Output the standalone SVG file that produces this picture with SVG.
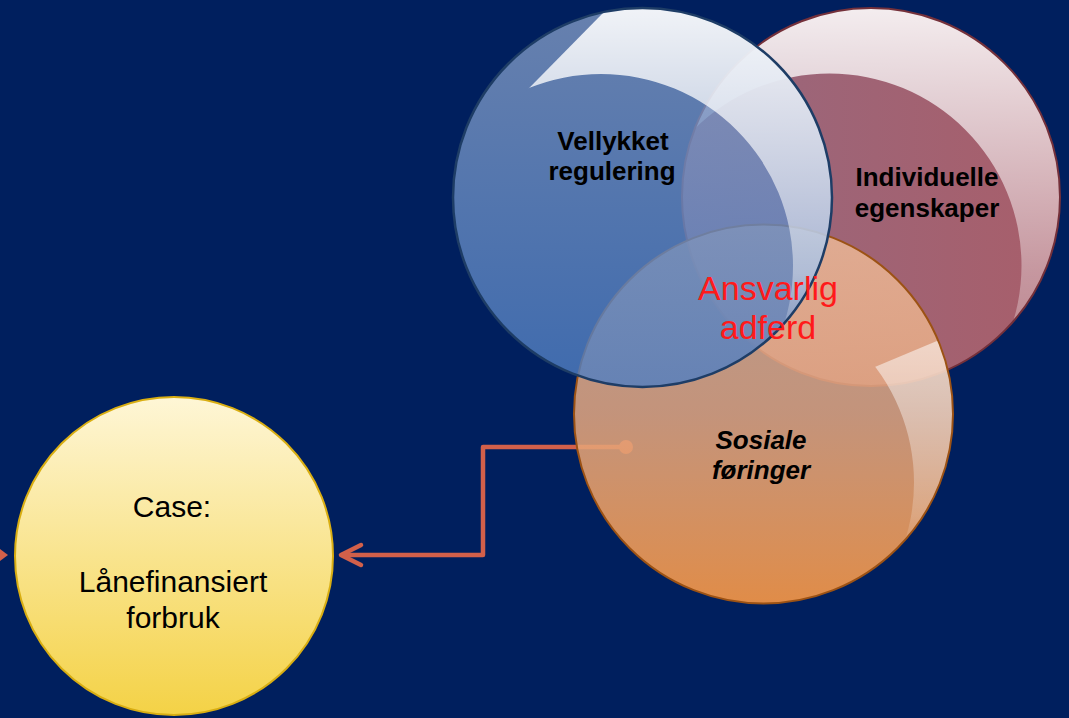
<svg xmlns="http://www.w3.org/2000/svg" width="1069" height="718" viewBox="0 0 1069 718">
<defs>
<style>
.lbl{font-family:"Liberation Sans",Arial,sans-serif;fill:#000;text-anchor:middle}
.b{font-weight:bold;font-size:26px}
.bi{font-weight:bold;font-style:italic;font-size:26px}
.red{fill:#FF1A1A;font-size:34px}
.case{font-size:30px}
.conn{fill:none;stroke:#D2604A;stroke-width:4.5;stroke-linejoin:round;stroke-linecap:round}
</style>
<linearGradient id="gBlue" gradientUnits="userSpaceOnUse" x1="0" y1="8" x2="0" y2="387">
<stop offset="0" stop-color="#8199C2"/><stop offset="1" stop-color="#4F7EC2"/>
</linearGradient>
<linearGradient id="gMaroon" gradientUnits="userSpaceOnUse" x1="690" y1="0" x2="1060" y2="0">
<stop offset="0" stop-color="#98687E"/><stop offset="1" stop-color="#A85E6A"/>
</linearGradient>
<linearGradient id="gOrange" gradientUnits="userSpaceOnUse" x1="0" y1="225" x2="0" y2="603">
<stop offset="0" stop-color="#F5C39C" stop-opacity="0.75"/><stop offset="0.5" stop-color="#E6A880" stop-opacity="0.85"/><stop offset="1" stop-color="#E08C48" stop-opacity="1"/>
</linearGradient>
<linearGradient id="gYellow" gradientUnits="userSpaceOnUse" x1="0" y1="397" x2="0" y2="715">
<stop offset="0" stop-color="#FEF6D6"/><stop offset="1" stop-color="#F4D246"/>
</linearGradient>
<linearGradient id="hlBlue" gradientUnits="userSpaceOnUse" x1="0" y1="10" x2="0" y2="320">
<stop offset="0" stop-color="#FFFFFF" stop-opacity="0.9"/><stop offset="0.85" stop-color="#FFFFFF" stop-opacity="0.42"/><stop offset="1" stop-color="#FFFFFF" stop-opacity="0.2"/>
</linearGradient>
<linearGradient id="hlMaroon" gradientUnits="userSpaceOnUse" x1="0" y1="10" x2="0" y2="386">
<stop offset="0" stop-color="#FFFFFF" stop-opacity="0.88"/><stop offset="0.7" stop-color="#FFFFFF" stop-opacity="0.35"/><stop offset="1" stop-color="#FFFFFF" stop-opacity="0.2"/>
</linearGradient>
<linearGradient id="hlOrange" gradientUnits="userSpaceOnUse" x1="0" y1="340" x2="0" y2="560">
<stop offset="0" stop-color="#FFFFFF" stop-opacity="0.55"/><stop offset="0.8" stop-color="#FFFFFF" stop-opacity="0.2"/><stop offset="1" stop-color="#FFFFFF" stop-opacity="0"/>
</linearGradient>
<clipPath id="cBlue"><circle cx="642.5" cy="197.5" r="189.5"/></clipPath>
<clipPath id="cMaroon"><circle cx="871" cy="197" r="189"/></clipPath>
<clipPath id="cOrange"><circle cx="763.5" cy="414" r="189.5"/></clipPath>
<clipPath id="cutBlue"><polygon points="670,-55 1000,-55 1000,500 400,500 400,219"/></clipPath>
<clipPath id="cutOrange"><polygon points="750,419.4 1000,314.6 1000,700 750,700"/></clipPath>
</defs>
<rect width="1069" height="718" fill="#001F5E"/>
<g id="connectors">
<path class="conn" d="M626,447 H483 V555 H342"/>
<path class="conn" d="M361,545 L341,555 L361,565"/>
<circle cx="626" cy="447" r="7" fill="#D2604A"/>
<polygon points="0,549 8,555 0,561" fill="#D2604A"/>
</g>
<g id="node-individuelle">
<circle cx="871" cy="197" r="189" fill="url(#gMaroon)"/>
<g clip-path="url(#cMaroon)">
<path fill="url(#hlMaroon)" fill-rule="evenodd" d="M682,197 a189,189 0 1,0 378,0 a189,189 0 1,0 -378,0 Z M637.5,265.5 a192,192 0 1,0 384,0 a192,192 0 1,0 -384,0 Z"/>
</g>
<circle cx="871" cy="197" r="189" fill="none" stroke="#74303A" stroke-width="2"/>
<text class="lbl b" x="927" y="186">Individuelle</text>
<text class="lbl b" x="927" y="217">egenskaper</text>
</g>
<g id="node-sosiale">
<circle cx="763.5" cy="414" r="189.5" fill="url(#gOrange)"/>
<g clip-path="url(#cOrange)">
<path clip-path="url(#cutOrange)" fill="url(#hlOrange)" fill-rule="evenodd" d="M574,414 a189.5,189.5 0 1,0 379,0 a189.5,189.5 0 1,0 -379,0 Z M530,482.5 a192,192 0 1,0 384,0 a192,192 0 1,0 -384,0 Z"/>
</g>
<circle cx="763.5" cy="414" r="189.5" fill="none" stroke="#9C5214" stroke-width="2"/>
<text class="lbl bi" x="761" y="449">Sosiale</text>
<text class="lbl bi" x="761" y="479">føringer</text>
</g>
<g id="node-vellykket">
<circle cx="642.5" cy="197.5" r="189.5" fill="url(#gBlue)" fill-opacity="0.8"/>
<g clip-path="url(#cBlue)">
<path clip-path="url(#cutBlue)" fill="url(#hlBlue)" fill-rule="evenodd" d="M453,197.5 a189.5,189.5 0 1,0 379,0 a189.5,189.5 0 1,0 -379,0 Z M409,266 a192,192 0 1,0 384,0 a192,192 0 1,0 -384,0 Z"/>
</g>
<circle cx="642.5" cy="197.5" r="189.5" fill="none" stroke="#1E3D66" stroke-width="2.5"/>
<text class="lbl b" x="613" y="150">Vellykket</text>
<text class="lbl b" x="612" y="180">regulering</text>
</g>
<g id="node-case">
<circle cx="174" cy="556" r="159" fill="url(#gYellow)" stroke="#D9AE12" stroke-width="2"/>
<text class="lbl case" x="172" y="517">Case:</text>
<text class="lbl case" x="173" y="592">Lånefinansiert</text>
<text class="lbl case" x="173" y="628">forbruk</text>
</g>
<g id="label-ansvarlig">
<text class="lbl red" x="768" y="300">Ansvarlig</text>
<text class="lbl red" x="768" y="339">adferd</text>
</g>
</svg>
